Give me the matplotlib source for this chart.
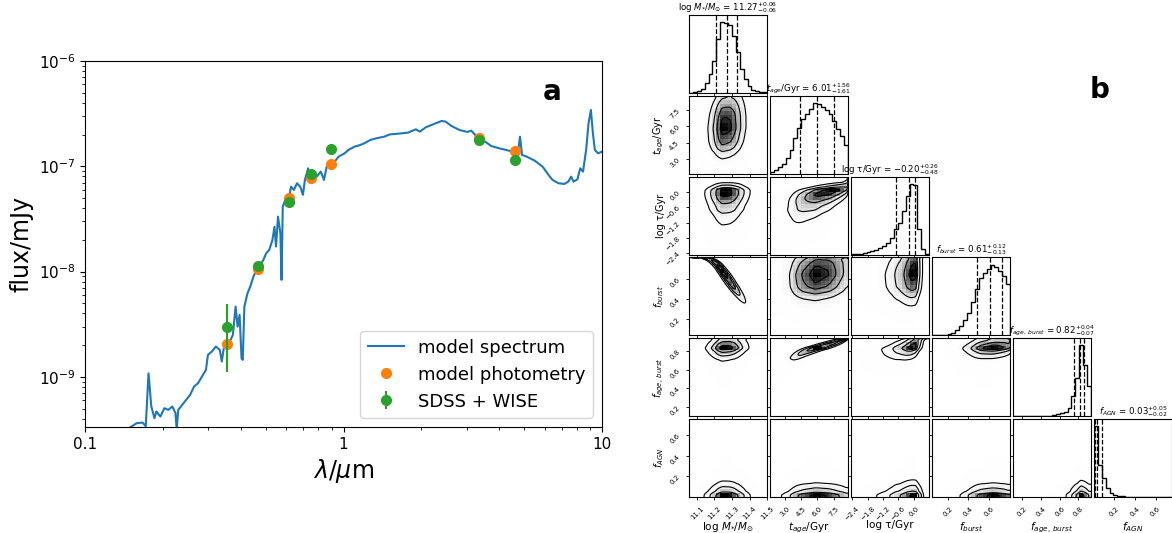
import numpy as np
import matplotlib
matplotlib.use("Agg")
import matplotlib.pyplot as plt
from matplotlib.colors import LinearSegmentedColormap
from matplotlib.ticker import NullFormatter

# ---------------- panel a: SED fit ----------------
spec_wave = [0.150, 0.1585, 0.167, 0.1718, 0.1761, 0.1805, 0.1857, 0.1889, 0.1957, 0.2028,
             0.2100, 0.2177, 0.2239, 0.2263, 0.2295, 0.2377, 0.2462, 0.2551, 0.2642, 0.2737,
             0.2835, 0.2937, 0.2989, 0.3096, 0.3208, 0.3323, 0.3382, 0.3442, 0.3566, 0.3630,
             0.3733, 0.3825, 0.3894, 0.3963, 0.4032, 0.4076, 0.4135, 0.4253, 0.4359, 0.4484,
             0.4613, 0.4729, 0.4898, 0.5020, 0.5163, 0.5311, 0.5407, 0.5483, 0.5580, 0.5699,
             0.5760, 0.5821, 0.5987, 0.6160, 0.6270, 0.6427, 0.6610, 0.6802, 0.6966, 0.7091,
             0.7298, 0.7455, 0.7608, 0.7882, 0.8166, 0.8406, 0.8610, 0.8919, 0.9243, 0.9576,
             1.010, 1.045, 1.103, 1.162, 1.204, 1.269, 1.339, 1.437, 1.515, 1.597,
             1.775, 1.905, 1.973, 2.081, 2.273, 2.396, 2.482, 2.617, 2.808, 3.013,
             3.121, 3.233, 3.350, 3.532, 3.724, 3.998, 4.365, 4.602, 4.734, 4.818,
             4.904, 5.116, 5.490, 5.891, 6.213, 6.434, 6.784, 7.153, 7.410, 7.596,
             7.759, 8.035, 8.236, 8.443, 8.683, 8.870, 9.059, 9.221, 9.385, 9.654,
             10.0]
spec_flux = [3.33e-10, 3.63e-10, 3.68e-10, 3.40e-10, 1.08e-9, 5.23e-10, 4.05e-10, 4.69e-10, 4.20e-10, 5.04e-10,
             4.86e-10, 5.23e-10, 4.52e-10, 3.18e-10, 4.86e-10, 5.42e-10, 6.05e-10, 6.75e-10, 8.09e-10, 8.71e-10,
             1.007e-9, 1.165e-9, 1.618e-9, 1.74e-9, 1.94e-9, 1.80e-9, 1.40e-9, 1.87e-9, 2.06e-9, 2.16e-9,
             2.50e-9, 4.65e-9, 3.00e-9, 3.88e-9, 1.50e-9, 1.45e-9, 4.65e-9, 6.23e-9, 7.20e-9, 8.97e-9,
             1.04e-8, 1.115e-8, 1.29e-8, 1.49e-8, 1.61e-8, 2.00e-8, 2.67e-8, 1.73e-8, 3.33e-8, 2.31e-8,
             8.33e-9, 4.14e-8, 4.97e-8, 5.15e-8, 6.41e-8, 5.96e-8, 6.90e-8, 6.41e-8, 5.35e-8, 7.42e-8,
             9.57e-8, 6.90e-8, 8.58e-8, 7.98e-8, 8.90e-8, 7.42e-8, 9.93e-8, 1.068e-7, 1.107e-7, 1.235e-7,
             1.328e-7, 1.429e-7, 1.537e-7, 1.594e-7, 1.653e-7, 1.778e-7, 1.844e-7, 1.912e-7, 2.012e-7, 2.03e-7,
             2.087e-7, 2.245e-7, 2.134e-7, 2.346e-7, 2.561e-7, 2.694e-7, 2.655e-7, 2.415e-7, 2.213e-7, 2.118e-7,
             2.181e-7, 1.984e-7, 1.804e-7, 1.714e-7, 1.560e-7, 1.483e-7, 1.408e-7, 1.349e-7, 1.377e-7, 1.912e-7,
             1.281e-7, 1.235e-7, 1.132e-7, 9.93e-8, 8.27e-8, 7.42e-8, 6.90e-8, 6.80e-8, 7.15e-8, 7.98e-8,
             7.15e-8, 7.52e-8, 9.57e-8, 8.90e-8, 1.429e-7, 2.561e-7, 3.425e-7, 2.058e-7, 1.429e-7, 1.328e-7,
             1.377e-7]

phot_wave = [0.355, 0.469, 0.617, 0.748, 0.893, 3.35, 4.60]
model_phot = [2.06e-9, 1.05e-8, 5.0e-8, 7.7e-8, 1.045e-7, 1.85e-7, 1.40e-7]
obs_flux = [3.0e-9, 1.12e-8, 4.6e-8, 8.4e-8, 1.45e-7, 1.78e-7, 1.15e-7]
obs_err = [1.9e-9, 3e-10, 1e-9, 1.5e-9, 3e-9, 3e-9, 3e-9]
flux_ticks = [1e-9, 1e-8, 1e-7, 1e-6]

# ---------------- panel b: posterior ----------------
par_labels = [r"log $M_{*}/M_{\odot}$", r"$t_{age}$/Gyr", "log τ/Gyr",
              r"$f_{burst}$", r"$f_{age,\,burst}$", r"$f_{AGN}$"]
par_lo = [11.055, 1.6, -2.45, 0.04, 0.10, 0.0]
par_hi = [11.5, 8.85, 0.6, 0.81, 0.935, 0.76]
par_ticks = [[11.1, 11.2, 11.3, 11.4, 11.5],
             [3.0, 4.5, 6.0, 7.5],
             [-2.4, -1.8, -1.2, -0.6, 0.0],
             [0.2, 0.4, 0.6],
             [0.2, 0.4, 0.6, 0.8],
             [0.2, 0.4, 0.6]]
par_med = [11.27, 6.01, -0.20, 0.61, 0.82, 0.03]
par_minus = [0.06, 1.61, 0.48, 0.13, 0.07, 0.02]
par_plus = [0.06, 1.56, 0.26, 0.12, 0.04, 0.05]

hist_logm = [1, 2, 6, 12, 28, 55, 95, 160, 210, 208, 200, 168, 120, 72, 40, 20, 9, 5, 3, 2]
hist_tage = [5, 12, 20, 30, 45, 70, 105, 135, 160, 175, 190, 208, 205, 195, 188, 175, 155, 132, 110, 85]
hist_logtau = [1, 2, 3, 5, 7, 10, 13, 18, 25, 35, 50, 77, 95, 130, 175, 210, 205, 75, 15, 2]
hist_fburst = [0, 0, 1, 2, 4, 8, 16, 28, 46, 66, 98, 135, 166, 180, 193, 206, 200, 186, 173, 148]
hist_fab = [0, 0, 0, 0, 0, 0, 0, 1, 1, 1, 3, 5, 8, 13, 25, 60, 112, 208, 150, 90]
hist_fagn = [212, 97, 57, 27, 12, 5, 3, 2, 1, 1, 1, 0.6, 0.5, 0.4, 0.3, 0.3, 0.2, 0.2, 0.1, 0.1]
hists = [hist_logm, hist_tage, hist_logtau, hist_fburst, hist_fab, hist_fagn]

# pair correlations (row param, column param), lower triangle
rho = [[0, 0, 0, 0, 0],
       [0.1, 0, 0, 0, 0],
       [0.05, 0.6, 0, 0, 0],
       [-0.95, 0.1, 0.1, 0, 0],
       [0.1, 0.93, 0.5, 0.2, 0],
       [0.0, 0.0, 0.0, 0.0, 0.0]]

fig = plt.figure(figsize=(11.72, 5.33), dpi=100)

# SED panel
ax = fig.add_axes([85 / 1172, 1 - 427 / 533, 517 / 1172, 366 / 533])
ax.plot(spec_wave, spec_flux, color="C0", lw=1.5, label="model spectrum")
ax.plot(phot_wave, model_phot, "o", color="C1", ms=7, label="model photometry")
ax.errorbar(phot_wave, obs_flux, yerr=obs_err, fmt="o", color="C2", ms=7, label="SDSS + WISE")
ax.set_xscale("log")
ax.set_yscale("log")
ax.set_xlim(0.1, 10)
ax.set_ylim(3.34e-10, 1e-6)
ax.set_xticks([0.1, 1, 10])
ax.set_xticklabels(["0.1", "1", "10"])
ax.set_yticks(flux_ticks)
ax.xaxis.set_minor_formatter(NullFormatter())
ax.yaxis.set_minor_formatter(NullFormatter())
ax.tick_params(labelsize=11)
ax.set_xlabel(r"$\lambda/\mu$m", fontsize=17)
ax.set_ylabel("flux/mJy", fontsize=17)
ax.legend(loc="lower right", fontsize=13)
ax.text(0.903, 0.915, "a", transform=ax.transAxes, fontsize=20,
        fontweight="bold", ha="center", va="center")

# corner plot
zs = np.linspace(-6, 6, 2401)
phi = np.cumsum(np.exp(-0.5 * zs ** 2))
phi /= phi[-1]
fracs = 1.0 - np.exp(-0.5 * np.array([0.5, 1.0, 1.5, 2.0]) ** 2)
density_cmap = LinearSegmentedColormap.from_list("dens", ["k", (1, 1, 1, 0)])


def marginal(k, grid):
    edges = np.linspace(par_lo[k], par_hi[k], 21)
    centers = 0.5 * (edges[1:] + edges[:-1])
    fine = np.linspace(par_lo[k], par_hi[k], 600)
    p = np.interp(fine, centers, np.asarray(hists[k], float))
    cdf = np.cumsum(p) - 0.5 * p
    cdf = np.clip(cdf / p.sum(), 1e-6, 1 - 1e-6)
    pdf = p / (p.sum() * (fine[1] - fine[0]))
    return np.interp(grid, fine, pdf), np.interp(np.interp(grid, fine, cdf), phi, zs)


def joint(j, i, gx, gy):
    px, zx = marginal(j, gx)
    py, zy = marginal(i, gy)
    r = rho[i][j]
    ZX, ZY = np.meshgrid(zx, zy)
    c = np.exp(-(r ** 2 * (ZX ** 2 + ZY ** 2) - 2 * r * ZX * ZY) / (2 * (1 - r ** 2)))
    return py[:, None] * px[None, :] * c / np.sqrt(1 - r ** 2)


gs = fig.add_gridspec(6, 6, left=689 / 1172, right=1.0, top=1 - 15 / 533,
                      bottom=1 - 497 / 533, wspace=0.037, hspace=0.037)
n = len(hists)
for i in range(n):
    for j in range(i + 1):
        cax = fig.add_subplot(gs[i, j])
        if i == j:
            edges = np.linspace(par_lo[i], par_hi[i], 21)
            cax.stairs(hists[i], edges, color="k", lw=1)
            cax.set_ylim(0, 1.1 * max(hists[i]))
            for q in (par_med[i] - par_minus[i], par_med[i], par_med[i] + par_plus[i]):
                cax.axvline(q, ls="--", color="k", lw=0.9)
            cax.set_title(par_labels[i] + " = " + r"$%.2f_{-%.2f}^{+%.2f}$"
                          % (par_med[i], par_minus[i], par_plus[i]), fontsize=6.2, pad=1)
            cax.set_yticks([])
        else:
            ex = np.linspace(par_lo[j], par_hi[j], 21)
            ey = np.linspace(par_lo[i], par_hi[i], 21)
            D20 = joint(j, i, 0.5 * (ex[1:] + ex[:-1]), 0.5 * (ey[1:] + ey[:-1]))
            cax.pcolormesh(ex, ey, D20.max() - D20, cmap=density_cmap, shading="flat")
            gx = np.linspace(par_lo[j], par_hi[j], 70)
            gy = np.linspace(par_lo[i], par_hi[i], 70)
            D = joint(j, i, gx, gy)
            flat = np.sort(D.ravel())[::-1]
            cum = np.cumsum(flat)
            cum /= cum[-1]
            V = np.unique([flat[cum <= f][-1] if np.any(cum <= f) else flat[0] for f in fracs])
            cax.contour(gx, gy, D, levels=V, colors="k", linewidths=0.8)
            cax.set_ylim(par_lo[i], par_hi[i])
            cax.set_yticks(par_ticks[i])
            if j == 0:
                cax.ticklabel_format(axis="y", useOffset=False)
                for lab in cax.get_yticklabels():
                    lab.set_rotation(45)
                cax.set_ylabel(par_labels[i], fontsize=7)
                cax.yaxis.set_label_coords(-0.3, 0.5)
            else:
                cax.set_yticklabels([])
        cax.set_xlim(par_lo[j], par_hi[j])
        cax.set_xticks(par_ticks[j])
        if i == n - 1:
            cax.ticklabel_format(axis="x", useOffset=False)
            for lab in cax.get_xticklabels():
                lab.set_rotation(45)
            cax.set_xlabel(par_labels[j], fontsize=7.5)
            cax.xaxis.set_label_coords(0.5, -0.3)
        else:
            cax.set_xticklabels([])
        cax.tick_params(labelsize=5, length=2.5, width=0.6)

fig.text(1100 / 1172, 1 - 90 / 533, "b", fontsize=20, fontweight="bold",
         ha="center", va="center")

fig.savefig("out.png", dpi=100)
